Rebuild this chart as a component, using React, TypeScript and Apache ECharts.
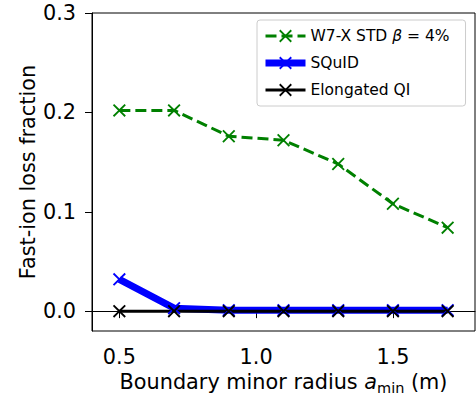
import React, { useEffect, useRef } from "react";
import * as echarts from "echarts";

const xValues = [0.5, 0.7, 0.9, 1.1, 1.3, 1.5, 1.7];
const w7xStd = [0.202, 0.202, 0.176, 0.172, 0.148, 0.108, 0.084];
const squid = [0.032, 0.003, 0.001, 0.001, 0.001, 0.001, 0.001];
const elongatedQi = [0, 0, 0, 0, 0, 0, 0];
const xTicks = [0.5, 1.0, 1.5];
const yTicks = [0.0, 0.1, 0.2, 0.3];
const seriesNames = ["W7-X STD β = 4%", "SQuID", "Elongated QI"];

const XMARK =
  "path://M0,1.2L1.2,0L6,4.8L10.8,0L12,1.2L7.2,6L12,10.8L10.8,12L6,7.2L1.2,12L0,10.8L4.8,6Z";
const FONT = "DejaVu Sans";

export default function App() {
  const ref = useRef<HTMLDivElement>(null);
  useEffect(() => {
    if (!ref.current) return;
    const chart = echarts.init(ref.current, null, { renderer: "svg" });
    const pairs = (ys: number[]) => xValues.map((x, i) => [x, ys[i]]);
    chart.setOption({
      animation: false,
      textStyle: { fontFamily: FONT },
      grid: {
        left: 92,
        top: 13,
        right: 1,
        bottom: 68,
        containLabel: false,
        outerBoundsMode: "none",
        show: true,
        borderColor: "#000",
        borderWidth: 1,
        backgroundColor: "transparent",
      },
      legend: {
        orient: "vertical",
        left: 257,
        top: 20,
        padding: [7, 16, 7, 5],
        itemGap: 9,
        itemWidth: 40,
        itemHeight: 16,
        backgroundColor: "rgba(255,255,255,0.8)",
        borderColor: "#cccccc",
        borderWidth: 1,
        borderRadius: 3,
        data: [
          { name: seriesNames[0], lineStyle: { width: 3 } },
          { name: seriesNames[1], lineStyle: { width: 7 } },
          { name: seriesNames[2], lineStyle: { width: 3 } },
        ],
        formatter: (name: string) =>
          name === seriesNames[0] ? "W7-X STD {i|β} = 4%" : name,
        textStyle: {
          fontFamily: FONT,
          fontSize: 15.5,
          color: "#000",
          lineHeight: 18,
          rich: {
            i: { fontFamily: FONT, fontSize: 15.5, fontStyle: "italic", color: "#000" },
          },
        },
      },
      xAxis: {
        type: "value",
        min: 0.4,
        max: 1.8,
        splitLine: { show: false },
        axisLine: { show: true, lineStyle: { color: "#000", width: 1 } },
        axisTick: {
          show: true,
          length: 7,
          inside: false,
          customValues: xTicks,
          lineStyle: { color: "#000", width: 1 },
        },
        axisLabel: {
          customValues: xTicks,
          formatter: (v: number) => v.toFixed(1),
          fontFamily: FONT,
          fontSize: 20.8,
          color: "#000",
          margin: 15,
        },
        name: "Boundary minor radius {i|a}{sub|min} (m)",
        nameLocation: "middle",
        nameGap: 38,
        nameMoveOverlap: false,
        nameTextStyle: {
          fontFamily: FONT,
          fontSize: 20.8,
          color: "#000",
          lineHeight: 26,
          rich: {
            i: { fontFamily: FONT, fontSize: 20.8, fontStyle: "italic", color: "#000", lineHeight: 26 },
            sub: { fontFamily: FONT, fontSize: 14.5, color: "#000", verticalAlign: "bottom", lineHeight: 20 },
          },
        },
      },
      yAxis: {
        type: "value",
        min: -0.02,
        max: 0.3,
        splitLine: { show: false },
        axisLine: { show: true, lineStyle: { color: "#000", width: 1 } },
        axisTick: {
          show: true,
          length: 7,
          inside: false,
          customValues: yTicks,
          lineStyle: { color: "#000", width: 1 },
        },
        axisLabel: {
          customValues: yTicks,
          formatter: (v: number) => v.toFixed(1),
          fontFamily: FONT,
          fontSize: 20.8,
          color: "#000",
          margin: 16,
        },
        name: "Fast-ion loss fraction",
        nameLocation: "middle",
        nameGap: 54,
        nameMoveOverlap: false,
        nameTextStyle: { fontFamily: FONT, fontSize: 20.8, color: "#000" },
      },
      series: [
        {
          name: seriesNames[0],
          type: "line",
          data: pairs(w7xStd),
          symbol: XMARK,
          symbolSize: 13,
          lineStyle: { color: "#008000", width: 3, type: [11, 5] },
          itemStyle: { color: "#008000" },
        },
        {
          name: seriesNames[1],
          type: "line",
          data: pairs(squid),
          symbol: XMARK,
          symbolSize: 13,
          lineStyle: { color: "#0000ff", width: 7 },
          itemStyle: { color: "#0000ff" },
        },
        {
          name: seriesNames[2],
          type: "line",
          data: pairs(elongatedQi),
          symbol: XMARK,
          symbolSize: 13,
          lineStyle: { color: "#000000", width: 3 },
          itemStyle: { color: "#000000" },
        },
      ],
    });
    return () => chart.dispose();
  }, []);
  return <div ref={ref} style={{ width: 476, height: 399, position: "absolute", left: 0, top: 0 }} />;
}
